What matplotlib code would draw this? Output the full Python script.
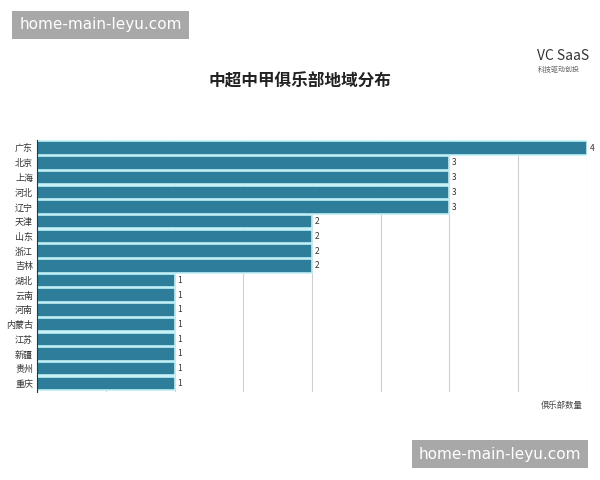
import matplotlib
matplotlib.use("Agg")
import matplotlib.pyplot as plt

plt.rcParams['font.family'] = ['Noto Sans CJK SC', 'DejaVu Sans']

regions = ["广东", "北京", "上海", "河北", "辽宁", "天津", "山东", "浙江", "吉林",
           "湖北", "云南", "河南", "内蒙古", "江苏", "新疆", "贵州", "重庆"]
counts = [4, 3, 3, 3, 3, 2, 2, 2, 2, 1, 1, 1, 1, 1, 1, 1, 1]

fig = plt.figure(figsize=(6, 4.8), dpi=100)
ax = fig.add_axes([0.062, 0.183, 0.916, 0.525])
y = list(range(len(regions)))
ax.barh(y, counts, height=0.92, color="#2e7d9a", edgecolor="#bff0f5", linewidth=1.2, zorder=2)
ax.set_yticks(y)
ax.set_yticklabels(regions, fontsize=6.5, color="#333333")
ax.set_ylim(len(regions) - 0.4, -0.55)
ax.set_xlim(0, 4)
ax.set_xticks([i * 0.5 for i in range(9)])
ax.set_xticklabels([])
ax.tick_params(axis='both', length=0, pad=3)
ax.grid(axis='x', color="#d0d0d0", linewidth=0.8, zorder=0)
for s in ["top", "right", "bottom"]:
    ax.spines[s].set_visible(False)
ax.spines["left"].set_color("#333333")
for yi, v in zip(y, counts):
    ax.text(v + 0.02, yi, str(v), va="center", ha="left", fontsize=6, color="#333333")

fig.text(0.5, 0.83, "中超中甲俱乐部地域分布", ha="center", va="center", fontsize=12, weight="bold", color="#222222")
fig.text(0.972, 0.155, "俱乐部数量", ha="right", va="center", fontsize=6, color="#444444")
fig.text(0.895, 0.883, "VC SaaS", ha="left", va="center", fontsize=10, color="#333333")
fig.text(0.897, 0.855, "科技驱动创投", ha="left", va="center", fontsize=5, color="#666666")
fig.text(0.032, 0.948, "home-main-leyu.com", ha="left", va="center", fontsize=11, color="white",
         family="DejaVu Sans",
         bbox=dict(boxstyle="square,pad=0.45", fc="#a8a8a8", ec="none"))
fig.text(0.698, 0.054, "home-main-leyu.com", ha="left", va="center", fontsize=11, color="white",
         family="DejaVu Sans",
         bbox=dict(boxstyle="square,pad=0.45", fc="#a8a8a8", ec="none"))
fig.savefig("out.png", dpi=100)
